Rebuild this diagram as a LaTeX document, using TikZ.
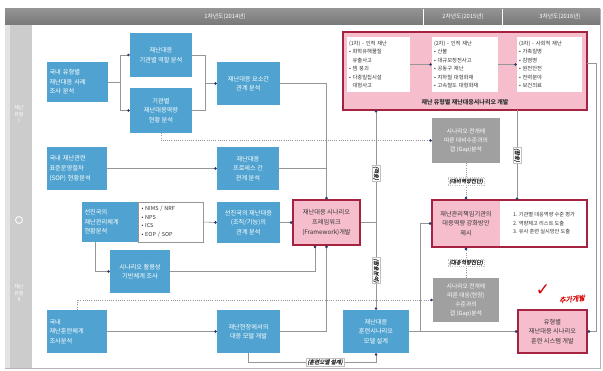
\documentclass[tikz,border=0pt]{standalone}
\usepackage{fontspec}
\usetikzlibrary{arrows.meta,calc}
\setmainfont{Noto Sans CJK KR}
\newfontfamily\kit[FakeSlant=0.2,FakeBold=1.5]{Noto Sans CJK KR}
\newfontfamily\sym{DejaVu Sans}
\definecolor{boxblue}{RGB}{80,163,208}
\definecolor{pinkfill}{RGB}{246,190,205}
\definecolor{pinkline}{RGB}{165,35,65}
\definecolor{grayfill}{RGB}{160,160,160}
\definecolor{linegray}{RGB}{150,150,150}
\definecolor{tipblue}{RGB}{40,60,100}
\definecolor{hdrgray}{RGB}{120,120,120}
\definecolor{txtdark}{RGB}{50,50,50}
\tikzset{
  wh/.style 2 args={minimum width=#1pt, minimum height=#2pt},
  bluebox/.style={fill=boxblue, text=white, align=center, inner sep=1pt,
    font=\fontsize{6.2}{9.6}\selectfont},
  leftbox/.style={bluebox, align=left, text width=#1pt},
  pinkbox/.style={fill=pinkfill, draw=pinkline, line width=1.1pt, text=txtdark, align=center,
    inner sep=1pt, font=\fontsize{6.2}{9.6}\selectfont},
  graybox/.style={fill=grayfill, text=white, align=center, inner sep=1pt,
    font=\fontsize{5.8}{9}\selectfont},
  whitebox/.style={fill=white, draw=linegray, line width=0.4pt, text=txtdark, align=left,
    inner sep=2pt, font=\fontsize{5.5}{8.5}\selectfont, text width=#1pt},
  conn/.style={draw=linegray, line width=0.6pt, -{Circle[length=2.6pt,color=tipblue]}},
  plain/.style={draw=linegray, line width=0.6pt},
  dotconn/.style={conn, dash pattern=on 1pt off 1.2pt},
  lbl/.style={fill=white, draw=linegray!60, line width=0.3pt, inner sep=1pt, text=txtdark,
    font=\kit\fontsize{5.5}{6.5}\selectfont},
  hdrtxt/.style={text=white, font=\fontsize{5.8}{6.5}\selectfont},
}
\begin{document}
\begin{tikzpicture}[x=1pt,y=-1pt]
\useasboundingbox (0,0) rectangle (603,371);
\fill[white] (0,0) rectangle (603,371);
% frame and header
\draw[linegray!70, line width=0.8pt] (5,9) rectangle (600,368);
\shade[top color=hdrgray!80, bottom color=hdrgray!100!black] (5,9) rectangle (600,25);
\draw[white, line width=0.8pt] (423,9) -- (423,25);
\draw[white, line width=0.8pt] (502,9) -- (502,25);
\node[hdrtxt] (h1) at (225,17) {1차년도(2014년)};
\node[hdrtxt] (h2) at (463,17) {2차년도(2015년)};
\node[hdrtxt] (h3) at (560,17) {3차년도(2016년)};
% left strip
\fill[gray!40] (5,25) rectangle (32,368);
\fill[gray!22] (5,25) rectangle (10,368);
\node[text=white, align=center, font=\fontsize{5}{6.5}\selectfont] (row1) at (19,114) {재난\\유형\\I};
\node[draw=white, circle, line width=0.8pt, minimum size=7pt, inner sep=0pt] (rowc) at (19,220) {};
\node[text=white, align=center, font=\fontsize{5}{6.5}\selectfont] (row2) at (19,293) {재난\\유형\\II};

% row 1
\node[leftbox=56, wh={61}{40}] (A) at (77.5,82) {국내 유형별\\재난대응 사례\\조사 분석};
\node[bluebox, wh={62}{44}] (B) at (161,55) {재난대응\\기관별 역할 분석};
\node[bluebox, wh={62}{45}] (C) at (161,110.5) {기관별\\재난대응역량\\현황 분석};
\node[bluebox, wh={63}{43}] (D) at (248.5,83.5) {재난대응 요소간\\관계 분석};
% row 2
\node[leftbox=55, wh={60}{43}] (E) at (77,168.5) {국내 재난관련\\표준운영절차\\(SOP) 현황분석};
\node[bluebox, wh={62}{43}] (F) at (248,168.5) {재난대응\\프로세스 간\\관계 분석};
\node[leftbox=51, wh={56}{40}] (H) at (110,222) {선진국의\\재난관리체계\\현황분석};
\node[whitebox=58, wh={65}{40}] (I) at (170.5,222) {• NIMS / NRF\\• NPS\\• ICS\\• EOP / SOP};
\node[bluebox, wh={63}{41}] (J) at (248.5,222.5) {선진국의 재난대응\\(조직/기능)의\\관계 분석};
\node[pinkbox, wh={67}{45}] (K) at (326.5,222.5) {재난대응 시나리오\\프레임워크\\(Framework)개발};
\node[bluebox, wh={60}{43}] (Q) at (140,271.5) {시나리오 활용성\\기반체계 조사};
% row 3
\node[leftbox=55, wh={60}{43}] (S) at (77,331.5) {국내\\재난훈련체계\\조사분석};
\node[bluebox, wh={63}{43}] (R) at (248.5,331.5) {재난현장에서의\\대응 모델 개발};
\node[bluebox, wh={66}{43}] (L) at (376,331.5) {재난대응\\훈련시나리오\\모델 설계};

% big pink box
\node[fill=pinkfill, draw=pinkline, line width=1.1pt, wh={244}{78}, inner sep=0pt] (P) at (465,71) {};
\node[whitebox=59, wh={63}{55}, draw=none, font=\fontsize{5.3}{8.4}\selectfont] (P1) at (378.5,64.5)
  {(1차) - 인적 재난\\• 화학유해물질\\\ \ 유출사고\\• 댐 붕괴\\• 다중밀집시설\\\ \ 대형사고};
\node[whitebox=62, wh={66}{55}, draw=none, font=\fontsize{5.3}{8.4}\selectfont] (P2) at (465,64.5)
  {(2차) - 인적 재난\\• 산불\\• 대규모정전사고\\• 공동구 재난\\• 지하철 대형화재\\• 고속철도 대형화재};
\node[whitebox=61, wh={65}{55}, draw=none, font=\fontsize{5.3}{8.4}\selectfont] (P3) at (549.5,64.5)
  {(3차) - 사회적 재난\\• 가축질병\\• 감염병\\• 원전안전\\• 전력분야\\• 보건의료};
\node[text=txtdark, font=\bfseries\fontsize{6}{6.5}\selectfont] (Pcap) at (465,102.5) {재난 유형별 재난대응시나리오 개발};

% right column
\node[graybox, wh={68}{45}] (G) at (466,140.5) {시나리오 전개에\\따른 대비수준과의\\갭 (Gap)분석};
\node[pinkbox, wh={155}{47}, fill=white] (Mframe) at (509.5,223.5) {};
\node[fill=pinkfill, wh={67}{45}, inner sep=1pt, align=center, text=txtdark,
  font=\fontsize{6.2}{9.6}\selectfont] (M) at (466,223.5) {재난관리책임기관의\\대응역량 강화방안\\제시};
\node[text=txtdark, align=left, font=\fontsize{5.2}{8.5}\selectfont, inner sep=1pt] (Mw) at (544,223.5)
  {1. 기관별 대응역량 수준 평가\\2. 역량제고 리스트 도출\\3. 유사 훈련 실시방안 도출};
\node[graybox, wh={66}{44}] (T) at (466,300) {시나리오 전개에\\따른 대응(현장)\\수준과의\\갭 (Gap)분석};
\node[pinkbox, wh={69}{43}] (N) at (552.5,331.5) {유형별\\재난대응 시나리오\\훈련 시스템 개발};

% junction coordinates
\coordinate (kj) at (376,222.5);
\coordinate (ptop) at (376,110);
\coordinate (pm1) at (517,110);
\coordinate (pm2) at (517,200);
\coordinate (lj) at (420,331.5);
\coordinate (pr) at (587,63);

% connectors row 1
\draw[conn] (A.east) -- ++(12,0) |- (B.west);
\draw[conn] (A.east) -- ++(12,0) |- (C.west);
\draw[plain] (B.east) -- ++(13,0) |- (D.west);
\draw[conn] (C.east) -- ++(13,0) |- (D.west);
\draw[conn] (D.east) -| (K.north);
\draw[plain] (F.east) -- (K.north |- F.east);
\draw[dotconn] (C.south) |- (G.west);
% row 2
\draw[conn] (E.east) -- (F.west);
\draw[conn] (I.east) -- (J.west);
\draw[conn] (J.east) -- (K.west |- J.east);
\draw[conn] ([xshift=-15pt]H.south) |- (Q.west);
\draw[conn] (Q.east) -| ([xshift=-11.5pt]K.south);
\draw[conn] (R.east) -| (K.south);
\draw[conn] (K.east) -| (ptop) node[lbl, rotate=-90, pos=0.72] (l1) {(적용)};
\draw[conn] (kj) -- (L.north) node[lbl, rotate=-90, pos=0.55] (l2) {(활용분석)};
% pink box internal
\draw[conn] (P1.east) -- (P2.west);
\draw[conn] (P2.east) -- (P3.west);
\draw[conn] (pm1) -- (pm2) node[lbl, rotate=-90, midway] (l3) {(활용)};
\draw[conn] (pr) -- ++(9,0) |- (N.east);
% right column
\draw[dotconn] (G.south) -- (Mframe.north -| G.south) node[lbl, midway] (l4) {(대비역량진단)};
\draw[dotconn] (T.north) -- (Mframe.south -| T.north) node[lbl, midway] (l5) {(대응역량진단)};
% row 3
\draw[conn] (S.east) -- (R.west);
\draw[dotconn] (S.north) |- (T.west);
\draw[conn] (R.south) -- ++(0,9) -| (L.south) node[lbl, pos=0.3] (l6) {(훈련모델 설계)};
\draw[conn] (L.east) -- (N.west);
\draw[conn] (lj) |- (Mframe.west);

% handwritten note
\node[text=red!85!black, font=\sym\fontsize{17}{17}\selectfont, inner sep=0pt] (chk) at (543,290) {✓};
\node[text=red!85!black, font=\kit\fontsize{7}{7.5}\selectfont, rotate=6, inner sep=0pt] (chkt) at (572,299) {추가개발};
\end{tikzpicture}
\end{document}
